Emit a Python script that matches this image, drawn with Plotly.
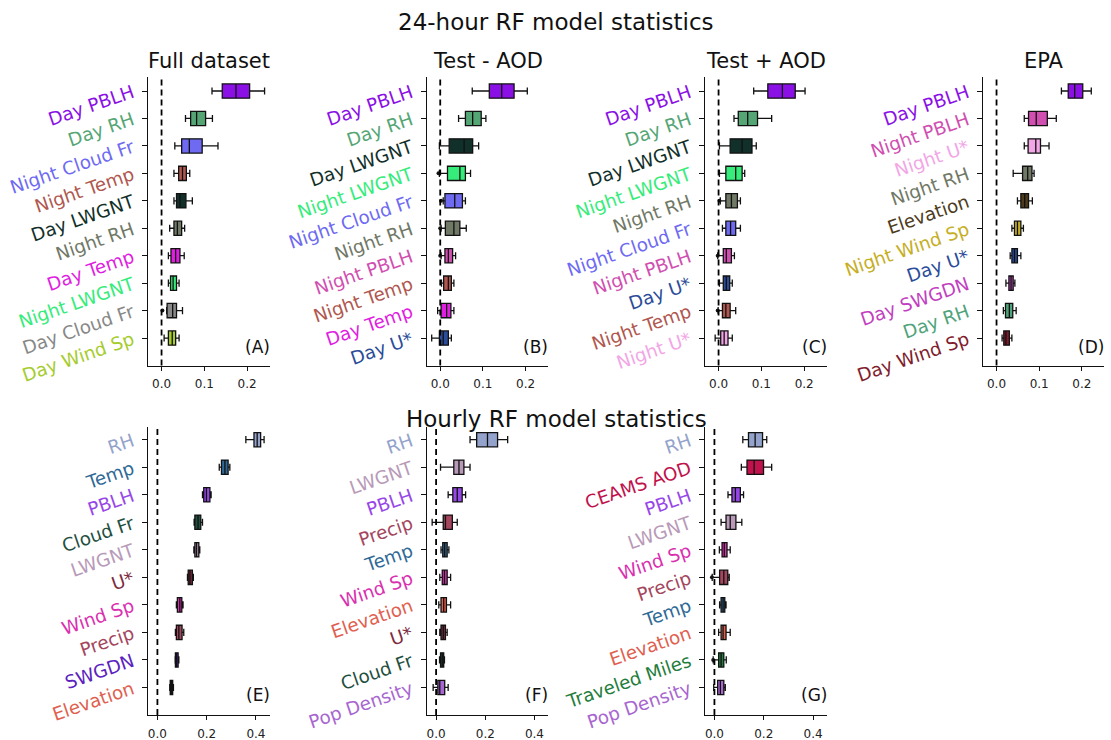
import plotly.graph_objects as go

# ---------------- data ----------------
# Panel A: 24-hour, Full dataset
A_labels = ["Day PBLH", "Day RH", "Night Cloud Fr", "Night Temp", "Day LWGNT",
            "Night RH", "Day Temp", "Night LWGNT", "Day Cloud Fr", "Day Wind Sp"]
A_low = [0.118, 0.056, 0.031, 0.029, 0.029, 0.019, 0.016, 0.016, 0.012, 0.006]
A_q1 = [0.142, 0.068, 0.047, 0.040, 0.035, 0.029, 0.022, 0.021, 0.013, 0.016]
A_med = [0.174, 0.082, 0.065, 0.049, 0.043, 0.037, 0.033, 0.027, 0.026, 0.025]
A_q3 = [0.206, 0.103, 0.095, 0.058, 0.057, 0.047, 0.043, 0.035, 0.035, 0.033]
A_high = [0.241, 0.119, 0.132, 0.066, 0.072, 0.054, 0.053, 0.041, 0.049, 0.041]
A_fliers = [(8, 0.002)]

# Panel B: 24-hour, Test - AOD
B_labels = ["Day PBLH", "Day RH", "Day LWGNT", "Night LWGNT", "Night Cloud Fr",
            "Night RH", "Night PBLH", "Night Temp", "Day Temp", "Day U*"]
B_low = [0.075, 0.043, -0.002, -0.002, 0.007, 0.002, 0.002, 0.003, -0.006, -0.020]
B_q1 = [0.115, 0.059, 0.021, 0.017, 0.011, 0.012, 0.011, 0.008, 0.002, -0.002]
B_med = [0.144, 0.076, 0.056, 0.046, 0.034, 0.032, 0.019, 0.019, 0.015, 0.007]
B_q3 = [0.173, 0.096, 0.076, 0.059, 0.052, 0.046, 0.029, 0.026, 0.025, 0.019]
B_high = [0.204, 0.107, 0.090, 0.071, 0.059, 0.061, 0.036, 0.032, 0.032, 0.026]
B_fliers = [(3, -0.004), (4, 0.002), (5, 0.000), (6, 0.000)]

# Panel C: 24-hour, Test + AOD
C_labels = ["Day PBLH", "Day RH", "Day LWGNT", "Night LWGNT", "Night RH",
            "Night Cloud Fr", "Night PBLH", "Day U*", "Night Temp", "Night U*"]
C_low = [0.082, 0.036, 0.002, 0.002, 0.004, 0.009, -0.002, 0.002, -0.001, -0.008]
C_q1 = [0.115, 0.046, 0.027, 0.017, 0.017, 0.017, 0.011, 0.011, 0.009, 0.005]
C_med = [0.149, 0.068, 0.055, 0.040, 0.030, 0.028, 0.018, 0.018, 0.017, 0.013]
C_q3 = [0.179, 0.091, 0.078, 0.055, 0.044, 0.040, 0.030, 0.026, 0.027, 0.022]
C_high = [0.202, 0.124, 0.088, 0.061, 0.051, 0.051, 0.037, 0.032, 0.040, 0.032]
C_fliers = [(4, 0.002), (6, -0.002), (8, -0.002)]

# Panel D: 24-hour, EPA
D_labels = ["Day PBLH", "Night PBLH", "Night U*", "Night RH", "Elevation",
            "Night Wind Sp", "Day U*", "Day SWGDN", "Day RH", "Day Wind Sp"]
D_low = [0.152, 0.065, 0.065, 0.039, 0.049, 0.036, 0.032, 0.022, 0.016, 0.013]
D_q1 = [0.168, 0.075, 0.074, 0.061, 0.057, 0.042, 0.036, 0.029, 0.021, 0.017]
D_med = [0.183, 0.093, 0.092, 0.073, 0.066, 0.049, 0.042, 0.034, 0.030, 0.022]
D_q3 = [0.202, 0.119, 0.103, 0.083, 0.075, 0.057, 0.049, 0.039, 0.038, 0.030]
D_high = [0.222, 0.140, 0.123, 0.088, 0.084, 0.063, 0.057, 0.043, 0.046, 0.036]
D_fliers = []

# Panel E: Hourly, Full dataset
E_labels = ["RH", "Temp", "PBLH", "Cloud Fr", "LWGNT",
            "U*", "Wind Sp", "Precip", "SWGDN", "Elevation"]
E_low = [0.359, 0.251, 0.183, 0.149, 0.148, 0.122, 0.077, 0.073, 0.072, 0.050]
E_q1 = [0.392, 0.260, 0.188, 0.152, 0.152, 0.125, 0.081, 0.077, 0.073, 0.052]
E_med = [0.405, 0.274, 0.199, 0.165, 0.159, 0.132, 0.091, 0.087, 0.077, 0.057]
E_q3 = [0.419, 0.287, 0.213, 0.176, 0.168, 0.142, 0.099, 0.100, 0.084, 0.062]
E_high = [0.433, 0.294, 0.218, 0.183, 0.172, 0.146, 0.104, 0.107, 0.087, 0.065]
E_fliers = []

# Panel F: Hourly, Test - AOD
F_labels = ["RH", "LWGNT", "PBLH", "Precip", "Temp",
            "Wind Sp", "Elevation", "U*", "Cloud Fr", "Pop Density"]
F_low = [0.138, 0.018, 0.049, -0.016, 0.020, 0.015, 0.011, 0.015, 0.014, -0.012]
F_q1 = [0.165, 0.072, 0.068, 0.029, 0.027, 0.025, 0.020, 0.020, 0.018, 0.007]
F_med = [0.209, 0.093, 0.086, 0.038, 0.035, 0.034, 0.031, 0.029, 0.025, 0.015]
F_q3 = [0.250, 0.113, 0.106, 0.066, 0.045, 0.045, 0.042, 0.038, 0.031, 0.035]
F_high = [0.291, 0.138, 0.120, 0.086, 0.052, 0.059, 0.059, 0.045, 0.034, 0.049]
F_fliers = []

# Panel G: Hourly, Test + AOD
G_labels = ["RH", "CEAMS AOD", "PBLH", "LWGNT", "Wind Sp",
            "Precip", "Temp", "Elevation", "Traveled Miles", "Pop Density"]
G_low = [0.115, 0.109, 0.055, 0.027, 0.020, -0.009, 0.021, 0.017, -0.005, -0.003]
G_q1 = [0.138, 0.132, 0.071, 0.047, 0.031, 0.021, 0.027, 0.027, 0.017, 0.013]
G_med = [0.165, 0.161, 0.085, 0.064, 0.040, 0.038, 0.035, 0.035, 0.027, 0.024]
G_q3 = [0.195, 0.199, 0.105, 0.087, 0.051, 0.054, 0.042, 0.047, 0.038, 0.038]
G_high = [0.212, 0.232, 0.118, 0.111, 0.064, 0.060, 0.047, 0.064, 0.048, 0.044]
G_fliers = [(5, -0.010), (8, -0.005)]

# ---------------- styles ----------------
A_colors = ["#8a10e6", "#55a675", "#6e6af2", "#b0574f", "#12302a",
            "#707866", "#e01ee0", "#36ec7a", "#888888", "#a6cc2e"]
B_colors = ["#8a10e6", "#55a675", "#12302a", "#36ec7a", "#6e6af2",
            "#707866", "#d04fb0", "#b0574f", "#e01ee0", "#2b4c99"]
C_colors = ["#8a10e6", "#55a675", "#12302a", "#36ec7a", "#707866",
            "#6e6af2", "#d04fb0", "#2b4c99", "#b0574f", "#f2a6e6"]
D_colors = ["#8a10e6", "#d04fb0", "#f2a6e6", "#707866", "#4d3b1c",
            "#c6ae24", "#2b4c99", "#c23fbf", "#4fa37a", "#801c2c"]
E_colors = ["#94a3cc", "#2f6a96", "#9747e8", "#1f4f3f", "#b89ab8",
            "#7d2b3f", "#d930b0", "#a3465e", "#5b22c0", "#e0604f"]
F_colors = ["#94a3cc", "#b89ab8", "#9747e8", "#a3465e", "#2f6a96",
            "#d930b0", "#e0604f", "#7d2b3f", "#1f4f3f", "#a866d0"]
G_colors = ["#94a3cc", "#c0124d", "#9747e8", "#b89ab8", "#d930b0",
            "#a3465e", "#2f6a96", "#e0604f", "#1f7d3c", "#a866d0"]

W, H = 1111, 740
FONT = "DejaVu Sans"

def px_x(v):
    return v / W

def px_y(v):
    return 1 - v / H

top_y = [px_y(365.5), px_y(77.3)]
bot_y = [px_y(715.0), px_y(427.3)]
col_x = [[px_x(148.3), px_x(269.5)], [px_x(427.0), px_x(548.0)],
         [px_x(705.3), px_x(826.7)], [px_x(983.3), px_x(1104.3)]]

panels = [
    dict(tag="(A)", title="Full dataset", lab=A_labels, lo=A_low, q1=A_q1, md=A_med, q3=A_q3, hi=A_high, col=A_colors, fl=A_fliers, row=0, c=0),
    dict(tag="(B)", title="Test - AOD", lab=B_labels, lo=B_low, q1=B_q1, md=B_med, q3=B_q3, hi=B_high, col=B_colors, fl=B_fliers, row=0, c=1),
    dict(tag="(C)", title="Test + AOD", lab=C_labels, lo=C_low, q1=C_q1, md=C_med, q3=C_q3, hi=C_high, col=C_colors, fl=C_fliers, row=0, c=2),
    dict(tag="(D)", title="EPA", lab=D_labels, lo=D_low, q1=D_q1, md=D_med, q3=D_q3, hi=D_high, col=D_colors, fl=D_fliers, row=0, c=3),
    dict(tag="(E)", title=None, lab=E_labels, lo=E_low, q1=E_q1, md=E_med, q3=E_q3, hi=E_high, col=E_colors, fl=E_fliers, row=1, c=0),
    dict(tag="(F)", title=None, lab=F_labels, lo=F_low, q1=F_q1, md=F_med, q3=F_q3, hi=F_high, col=F_colors, fl=F_fliers, row=1, c=1),
    dict(tag="(G)", title=None, lab=G_labels, lo=G_low, q1=G_q1, md=G_med, q3=G_q3, hi=G_high, col=G_colors, fl=G_fliers, row=1, c=2),
]

fig = go.Figure()
layout = dict(
    width=W, height=H, margin=dict(l=0, r=0, t=0, b=0, pad=0, autoexpand=False),
    paper_bgcolor="white", plot_bgcolor="white",
    boxmode="overlay", showlegend=False,
    font=dict(family=FONT, color="#111"),
)
annotations = []
shapes = []

for i, p in enumerate(panels):
    n = i + 1
    xa = "x" if n == 1 else f"x{n}"
    ya = "y" if n == 1 else f"y{n}"
    for j in range(len(p["lab"])):
        fig.add_trace(go.Box(
            orientation="h", y=[j], q1=[p["q1"][j]], median=[p["md"][j]], q3=[p["q3"][j]],
            lowerfence=[p["lo"][j]], upperfence=[p["hi"][j]],
            fillcolor=p["col"][j], line=dict(color="#111111", width=1.3),
            width=0.52, whiskerwidth=0.5, boxpoints=False,
            xaxis=xa, yaxis=ya, hoverinfo="skip", showlegend=False,
        ))
    if p["fl"]:
        fig.add_trace(go.Scatter(
            x=[f[1] for f in p["fl"]], y=[f[0] for f in p["fl"]], mode="markers",
            marker=dict(size=4, color="#111111"), xaxis=xa, yaxis=ya,
            hoverinfo="skip", showlegend=False,
        ))
    if p["row"] == 0:
        xr = [-0.031, 0.2525]
        tv = [0.0, 0.1, 0.2]
        yd = top_y
        yr = [10.0, -0.5]
        tag_y = 346.5
    else:
        xr = [-0.037, 0.455]
        tv = [0.0, 0.2, 0.4]
        yd = bot_y
        yr = [10.0, -0.45]
        tag_y = 695.0
    xd = col_x[p["c"]]
    layout["xaxis" if n == 1 else f"xaxis{n}"] = dict(
        domain=xd, anchor=ya, range=xr, tickvals=tv, ticktext=[f"{v:.1f}" for v in tv],
        showline=True, linecolor="#111", linewidth=1.3, ticks="outside", ticklen=4,
        tickcolor="#111", showgrid=False, zeroline=False, ticklabelstandoff=3,
        automargin=False, fixedrange=True,
        tickfont=dict(size=12, color="#222", family=FONT),
    )
    layout["yaxis" if n == 1 else f"yaxis{n}"] = dict(
        domain=yd, anchor=xa, range=yr, tickvals=list(range(len(p["lab"]))),
        ticktext=[f'<span style="color:{c}">{t}</span>' for t, c in zip(p["lab"], p["col"])],
        tickangle=-19, showline=True, linecolor="#111", linewidth=1.3,
        ticks="outside", ticklen=5, tickcolor="#111", showgrid=False, zeroline=False,
        ticklabelstandoff=6, automargin=False, fixedrange=True,
        tickfont=dict(size=18.3, family=FONT),
    )
    shapes.append(dict(type="line", xref=xa, yref=f"{ya} domain", x0=0, x1=0, y0=0, y1=1,
                       line=dict(color="black", width=1.8, dash="6px,4px")))
    annotations.append(dict(text=p["tag"], xref="paper", yref="paper",
                            x=xd[1] + 2 / W, y=px_y(tag_y), xanchor="right", yanchor="middle",
                            showarrow=False, font=dict(size=17, family=FONT, color="#111")))
    if p["title"]:
        annotations.append(dict(text=p["title"], xref="paper", yref="paper",
                                x=(xd[0] + xd[1]) / 2, y=px_y(61.5), xanchor="center", yanchor="middle",
                                showarrow=False, font=dict(size=21, family=FONT, color="#111")))

annotations.append(dict(text="24-hour RF model statistics", xref="paper", yref="paper",
                        x=px_x(555.5), y=px_y(22.5), xanchor="center", yanchor="middle",
                        showarrow=False, font=dict(size=23, family=FONT, color="#111")))
annotations.append(dict(text="Hourly RF model statistics", xref="paper", yref="paper",
                        x=px_x(556.5), y=px_y(418.5), xanchor="center", yanchor="middle",
                        showarrow=False, font=dict(size=23, family=FONT, color="#111")))

layout["annotations"] = annotations
layout["shapes"] = shapes
fig.update_layout(**layout)
fig.write_html("out.html")
